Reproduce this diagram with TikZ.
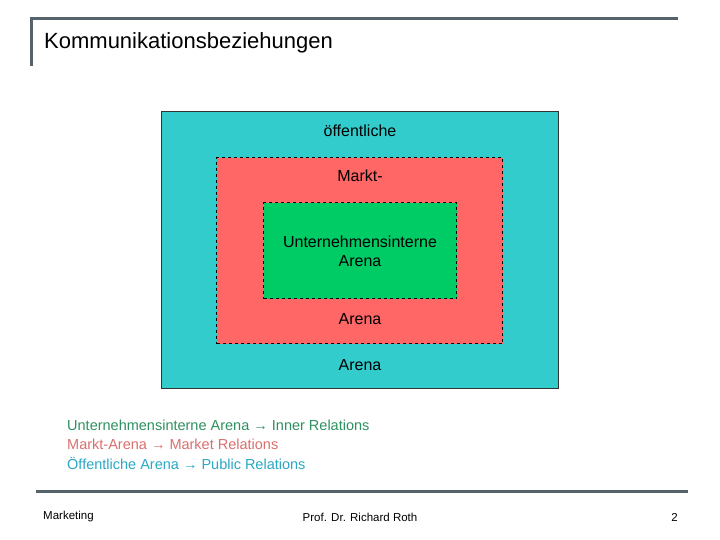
\documentclass[tikz,border=0pt]{standalone}
\usepackage{fontspec}
\setmainfont{Liberation Sans}
\begin{document}
\begin{tikzpicture}[x=1pt,y=-1pt,
  lbl/.style={inner sep=0pt,font=\fontsize{16}{19}\selectfont},
  leg/.style={anchor=west,inner sep=0pt,font=\fontsize{14.5}{17}\selectfont},
  foot/.style={inner sep=0pt,font=\fontsize{11.5}{13}\selectfont}]
\definecolor{teal1}{HTML}{33CCCC}
\definecolor{red1}{HTML}{FF6666}
\definecolor{green1}{HTML}{00CC66}
\definecolor{bar}{HTML}{56636B}
\definecolor{lg}{HTML}{2E9160}
\definecolor{lr}{HTML}{D9706E}
\definecolor{lt}{HTML}{2AA8C4}
\useasboundingbox (0,0) rectangle (720,540);
\fill[white] (0,0) rectangle (720,540);
\draw[bar,line width=3pt] (31,66) -- (31,18.5) -- (678,18.5);
\node[anchor=west,inner sep=0pt,font=\fontsize{22}{26}\selectfont] (title) at (44,43) {Kommunikationsbeziehungen};
\node[draw=black!80,fill=teal1,minimum width=397,minimum height=277,anchor=north west,line width=0.8pt] (outer) at (161,111) {};
\node[draw=black,dashed,fill=red1,minimum width=286,minimum height=186,anchor=north west,line width=1.3pt] (mid) at (216,157) {};
\node[draw=black,dashed,fill=green1,minimum width=193,minimum height=96,anchor=north west,line width=1.3pt] (inner) at (263,202) {};
\node[lbl] (t1) at (360,131) {öffentliche};
\node[lbl] (t2) at (360,176) {Markt-};
\node[lbl,align=center] (t3) at (360,251) {Unternehmensinterne\\Arena};
\node[lbl] (t4) at (360,319) {Arena};
\node[lbl] (t5) at (360,365) {Arena};
\node[leg,text=lg] (l1) at (67,425) {Unternehmensinterne Arena \textbf{→} Inner Relations};
\node[leg,text=lr] (l2) at (67,444) {Markt-Arena \textbf{→} Market Relations};
\node[leg,text=lt] (l3) at (67,463) {Öffentliche Arena \textbf{→} Public Relations};
\draw[bar,line width=3pt] (36,491) -- (688,491);
\node[foot,anchor=west] (f1) at (43,517) {Marketing};
\node[foot] (f2) at (360,517) {Prof. Dr. Richard Roth};
\node[foot,anchor=east] (f3) at (678,517) {2};
\end{tikzpicture}
\end{document}
